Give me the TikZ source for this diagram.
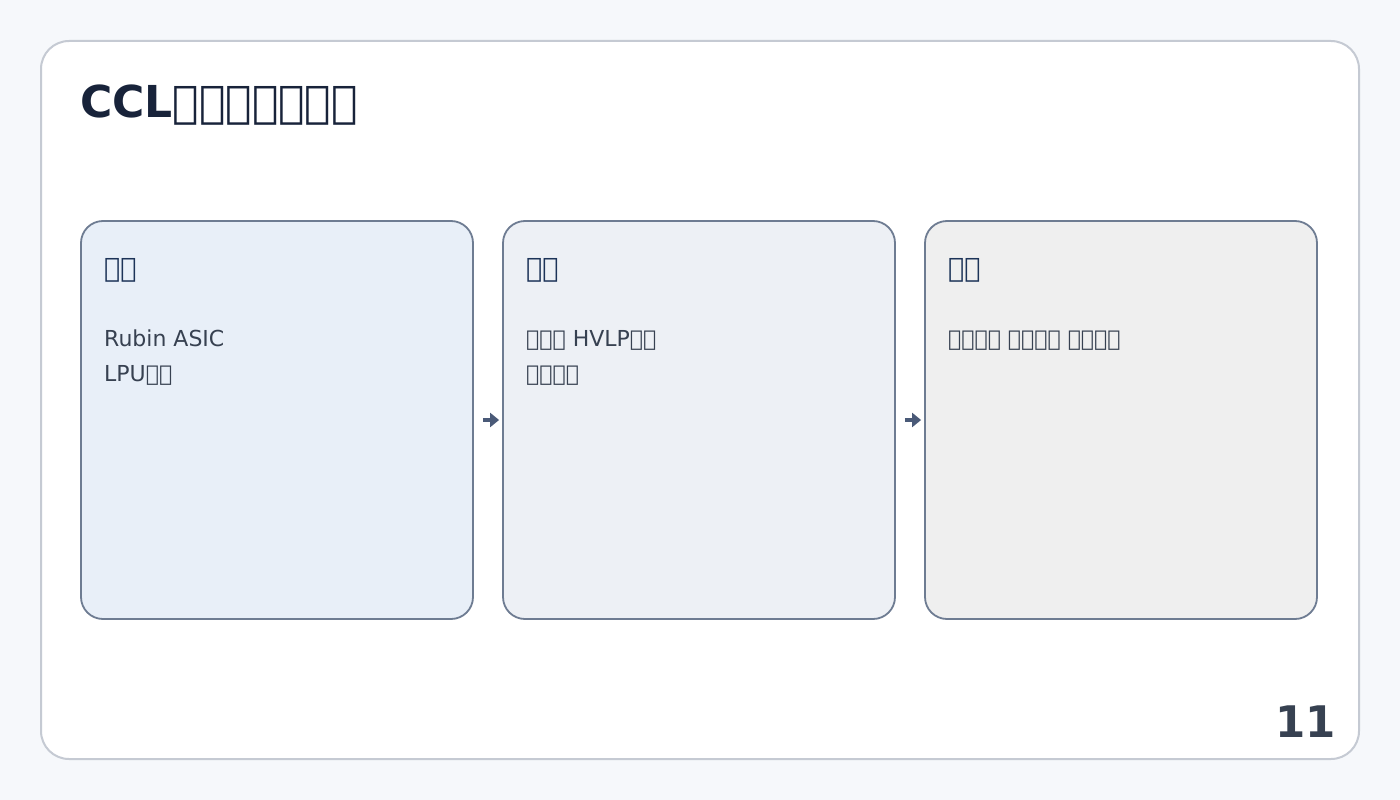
\documentclass[tikz,border=0pt]{standalone}
\usepackage{fontspec}
\setmainfont{DejaVu Sans}
\usetikzlibrary{arrows.meta}
\definecolor{pagebg}{HTML}{F6F8FB}
\definecolor{cardline}{HTML}{C5CAD3}
\definecolor{boxline}{HTML}{6E7C92}
\definecolor{fillA}{HTML}{E8EFF8}
\definecolor{fillB}{HTML}{EDF0F5}
\definecolor{fillC}{HTML}{EFEFEF}
\definecolor{titlecol}{HTML}{18233A}
\definecolor{headcol}{HTML}{1C3358}
\definecolor{bodycol}{HTML}{374151}
\definecolor{arrowcol}{HTML}{4A5A78}
\newcommand\tofu{\XeTeXglyph0\relax}
\tikzset{
  stagebox/.style={draw=boxline, line width=1.8pt, rounded corners=22pt, minimum width=392pt, minimum height=398pt, inner sep=0pt},
  headtxt/.style={anchor=base west, inner sep=0pt, text=headcol, font=\fontsize{27}{30}\selectfont},
  bodytxt/.style={anchor=base west, inner sep=0pt, text=bodycol, font=\fontsize{22}{26}\selectfont},
  flowarrow/.style={draw=arrowcol, line width=3.4pt, -{Triangle[length=9pt,width=14pt]}},
}
\begin{document}
\begin{tikzpicture}[x=1pt,y=-1pt]
\useasboundingbox (0,0) rectangle (1400,800);
\fill[pagebg] (0,0) rectangle (1400,800);
\draw[cardline, line width=2pt, fill=white, rounded corners=28pt] (41,41) rectangle (1359,759);
\node[anchor=base west, inner sep=0pt, text=titlecol, font=\bfseries\fontsize{44}{50}\selectfont] (title) at (80,117) {CCL\tofu\tofu\tofu\tofu\tofu\tofu\tofu};
\node[stagebox, fill=fillA] (b1) at (277,420) {};
\node[stagebox, fill=fillB] (b2) at (699,420) {};
\node[stagebox, fill=fillC] (b3) at (1121,420) {};
\node[headtxt] (h1) at (104,277) {\tofu\tofu};
\node[headtxt] (h2) at (526,277) {\tofu\tofu};
\node[headtxt] (h3) at (948,277) {\tofu\tofu};
\node[bodytxt] (t1a) at (104,346) {Rubin ASIC};
\node[bodytxt] (t1b) at (104,381) {LPU\tofu\tofu};
\node[bodytxt] (t2a) at (526,346) {\tofu\tofu\tofu{} HVLP\tofu\tofu};
\node[bodytxt] (t2b) at (526,381) {\tofu\tofu\tofu\tofu};
\node[bodytxt] (t3a) at (948,346) {\tofu\tofu\tofu\tofu{} \tofu\tofu\tofu\tofu{} \tofu\tofu\tofu\tofu};
\draw[flowarrow] ([xshift=9pt]b1.east) -- ([xshift=-3pt]b2.west);
\draw[flowarrow] ([xshift=9pt]b2.east) -- ([xshift=-3pt]b3.west);
\node[anchor=base east, inner sep=0pt, text=bodycol, font=\bfseries\fontsize{43.5}{48}\selectfont] (num) at (1336,737) {11};
\end{tikzpicture}
\end{document}
